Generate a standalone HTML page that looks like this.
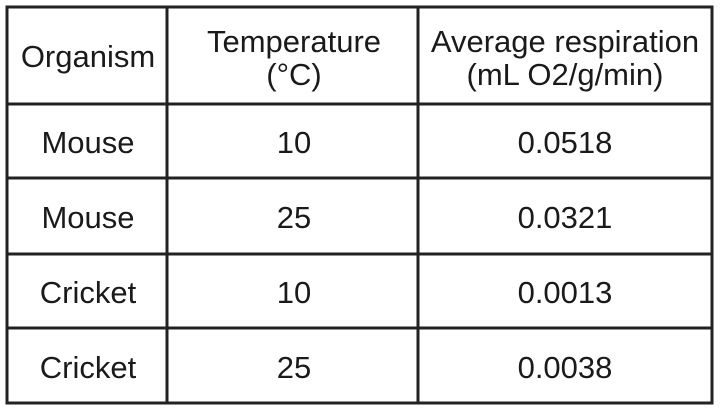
<!DOCTYPE html>
<html><head><style>body{margin:0;background:#fff}</style></head><body>
<svg width="720" height="411" xmlns="http://www.w3.org/2000/svg" font-family="Liberation Sans, Arial, sans-serif" font-size="31" fill="#1a1a1a" text-anchor="middle">
<rect x="0" y="0" width="720" height="411" fill="#fff"/>
<g stroke="#222" stroke-width="3" fill="none">
<rect x="7" y="7" width="705" height="396"/>
<line x1="167" y1="7" x2="167" y2="403"/>
<line x1="418" y1="7" x2="418" y2="403"/>
<line x1="7" y1="104" x2="712" y2="104"/>
<line x1="7" y1="178" x2="712" y2="178"/>
<line x1="7" y1="254" x2="712" y2="254"/>
<line x1="7" y1="328" x2="712" y2="328"/>
</g>
<text x="88" y="67">Organism</text>
<text x="294" y="52">Temperature</text>
<text x="294" y="85">(°C)</text>
<text x="565" y="52">Average respiration</text>
<text x="565" y="85">(mL O2/g/min)</text>
<text x="88" y="153">Mouse</text><text x="294" y="153">10</text><text x="565" y="153">0.0518</text>
<text x="88" y="228">Mouse</text><text x="294" y="228">25</text><text x="565" y="228">0.0321</text>
<text x="88" y="303">Cricket</text><text x="294" y="303">10</text><text x="565" y="303">0.0013</text>
<text x="88" y="378">Cricket</text><text x="294" y="378">25</text><text x="565" y="378">0.0038</text>
</svg>
</body></html>
